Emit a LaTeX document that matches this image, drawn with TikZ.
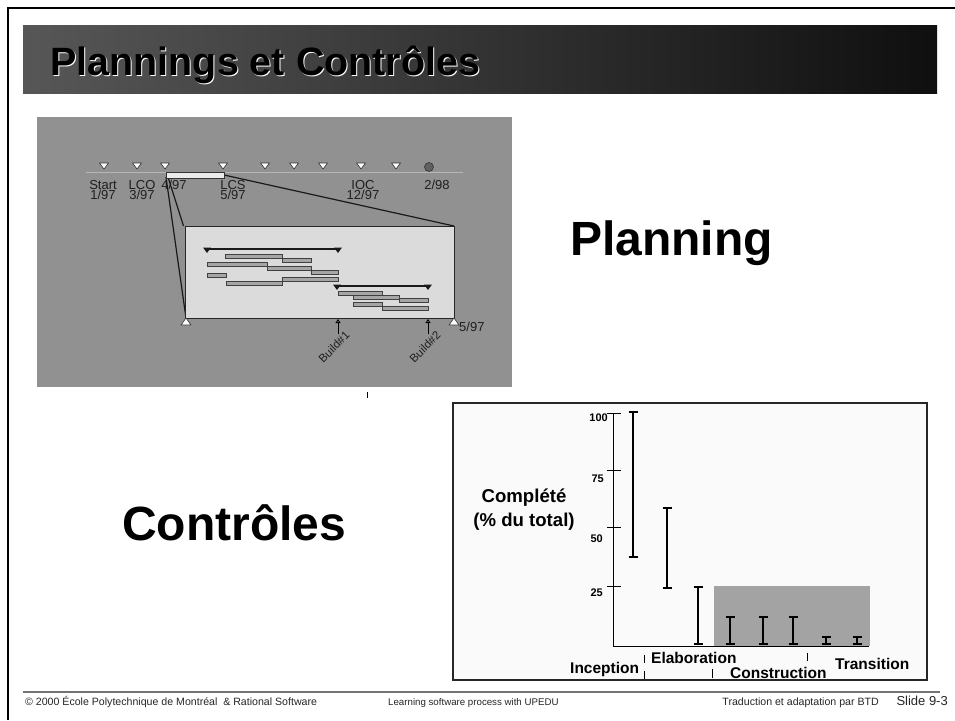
\documentclass[tikz,border=0pt]{standalone}
\usepackage{fontspec}
\setmainfont{Liberation Sans}
\usetikzlibrary{arrows.meta}

\tikzset{
  titletxt/.style={font=\fontsize{39.5}{40}\selectfont\bfseries, inner sep=0, anchor=base west},
  bigtxt/.style={font=\fontsize{48}{48}\selectfont\bfseries, inner sep=0, anchor=base west},
  ms/.style={font=\fontsize{13}{13}\selectfont, text=black!88, inner sep=0, anchor=base},
  buildtxt/.style={font=\fontsize{11.5}{12}\selectfont, text=black!88, inner sep=0, rotate=45},
  tri/.style={draw=black!80, fill=white, line width=0.6, line join=round},
  btri/.style={fill=black!90},
  gbar/.style={draw=black!75, fill=black!35, line width=0.6},
  span/.style={line width=2.2, black!90},
  zoomline/.style={line width=1.2, black!90},
  axis/.style={line width=1, black},
  ebar/.style={line width=2.8, black},
  ecap/.style={line width=2.2, black},
  ylab/.style={font=\fontsize{11}{11}\selectfont\bfseries, inner sep=0, anchor=east},
  phase/.style={font=\fontsize{15.5}{16}\selectfont\bfseries, inner sep=0, anchor=base west},
  ttl/.style={font=\fontsize{18.6}{19}\selectfont\bfseries, inner sep=0, anchor=base},
  foot/.style={font=\fontsize{10.6}{11}\selectfont, text=black!85, inner sep=0},
  sep/.style={line width=1, black}
}

\begin{document}
\begin{tikzpicture}[x=1pt,y=-1pt]
\useasboundingbox (0,0) rectangle (955,720);
\fill[white] (0,0) rectangle (955,720);

% slide frame (left and top edges)
\draw[line width=2.5] (8,720) -- (8,8) -- (955,8);

% title bar with embossed heading
\shade[left color=black!66, right color=black!94] (23,25) rectangle (937,93);
\node[titletxt, text=white] (titleshadow) at (51,76) {Plannings et Contrôles};
\node[titletxt, text=black] (title) at (50,75) {Plannings et Contrôles};

% ---------- schedule panel ----------
\fill[black!43] (37,117) rectangle (512,387);
\draw[black!28, line width=1] (86,172) -- (463,172);
\foreach \x in {104,137,165,223,265,294,323,361,396}
  \draw[tri] (\x-4.5,163) -- (\x+4.5,163) -- (\x,169) -- cycle;
\draw[fill=black!62, draw=black!80, line width=0.6] (429,167) circle (4.5);

\node[ms] (start) at (103,189) {Start};
\node[ms] (d1) at (103,199.5) {1/97};
\node[ms] (lco) at (142,189) {LCO};
\node[ms] (d3) at (142,199.5) {3/97};
\node[ms] (d4) at (174,189) {4/97};
\node[ms] (lcs) at (233,189) {LCS};
\node[ms] (d5) at (233,199.5) {5/97};
\node[ms] (ioc) at (363,189) {IOC};
\node[ms] (d12) at (363,199.5) {12/97};
\node[ms] (d98) at (437,189) {2/98};

% highlighted iteration on the timeline and its blow-up
\draw[zoomline] (224,175) -- (454,226);
\draw[zoomline] (168,177) -- (183.5,226);
\draw[zoomline] (166,177) -- (186,318);
\draw[fill=black!8, draw=black!80, line width=0.8] (166,172) rectangle (224,178);
\draw[fill=black!14, draw=black!85, line width=0.8] (185,226) rectangle (454,318);

% first build: span and tasks
\draw[span] (207,249) -- (338,249);
\fill[btri] (203,247.5) -- (211,247.5) -- (207,253) -- cycle;
\fill[btri] (334,247.5) -- (342,247.5) -- (338,253) -- cycle;
\foreach \a/\b/\y in {225/282/254, 282/311/258, 207/267/262, 267/311/266, 311/338/270,
                      207/226/273, 226/282/281, 282/338/277}
  \draw[gbar] (\a,\y) rectangle (\b,\y+4);

% second build: span and tasks
\draw[span] (337,286) -- (428,286);
\fill[btri] (333,284.5) -- (341,284.5) -- (337,290) -- cycle;
\fill[btri] (424,284.5) -- (432,284.5) -- (428,290) -- cycle;
\foreach \a/\b/\y in {338/382/291, 353/399/295, 399/428/298, 353/382/302, 382/428/306}
  \draw[gbar] (\a,\y) rectangle (\b,\y+4);

% iteration end points and builds
\draw[tri] (181,325) -- (191,325) -- (186,318) -- cycle;
\draw[tri] (449,325) -- (459,325) -- (454,318) -- cycle;
\node[ms, anchor=west] (d5b) at (459,327) {5/97};
\coordinate (b1a) at (338,334);
\coordinate (b1b) at (338,319);
\coordinate (b2a) at (428,334);
\coordinate (b2b) at (428,319);
\draw[line width=0.8, -{Triangle[open,width=5pt,length=4pt]}] (b1a) -- (b1b);
\draw[line width=0.8, -{Triangle[open,width=5pt,length=4pt]}] (b2a) -- (b2b);
\node[buildtxt] (build1) at (334,347) {Build\#1};
\node[buildtxt] (build2) at (425,347) {Build\#2};
\draw[line width=1] (367,392) -- (367,398);

% ---------- headings ----------
\node[bigtxt] (planning) at (570,255) {Planning};
\node[bigtxt] (controles) at (122,540) {Contrôles};

% ---------- progress chart ----------
\draw[fill=black!2, draw=black!85, line width=1.5] (453,403) rectangle (927,680);
\fill[black!36] (714,586) rectangle (870,646);
\draw[axis] (613,413) -- (613,646) -- (869,646);
\foreach \y in {413,470,527,586}
  \draw[axis] (607,\y) -- (621,\y);
\node[ylab] (l100) at (608,418) {100};
\node[ylab] (l75) at (604,479) {75};
\node[ylab] (l50) at (603,539) {50};
\node[ylab] (l25) at (603,593) {25};

\foreach \x/\a/\b in {633/412/557, 667/508/588, 698/587/644, 730/617/644,
                      763/617/644, 793/617/644, 826/637/644, 857/637/644}
{
  \draw[ebar] (\x,\a) -- (\x,\b);
  \draw[ecap] (\x-4.5,\a) -- (\x+4.5,\a) (\x-4.5,\b) -- (\x+4.5,\b);
}

\node[ttl] (compl) at (524,502) {Complété};
\node[ttl] (pct) at (524,526) {(\% du total)};

\node[phase] (inc) at (570,673) {Inception};
\node[phase] (ela) at (651,663) {Elaboration};
\node[phase] (con) at (730,678) {Construction};
\node[phase] (tra) at (835,669) {Transition};
\draw[sep] (644,655) -- (644,663);
\draw[sep] (644,671) -- (644,679);
\draw[sep] (712,669) -- (712,678);
\draw[sep] (807,653) -- (807,661);

% ---------- footer ----------
\draw[black!55, line width=1.5] (23,692) -- (940,692);
\node[foot, anchor=base west] (f1) at (25,705) {© 2000 École Polytechnique de Montréal \ \& Rational Software};
\node[foot, anchor=base west, font=\fontsize{9.7}{10}\selectfont] (f2) at (388,705) {Learning software process with UPEDU};
\node[foot, anchor=base east] (f3) at (879,705) {Traduction et adaptation par BTD};
\node[foot, anchor=base east, font=\fontsize{13}{13}\selectfont] (f4) at (948,705) {Slide 9-3};
\end{tikzpicture}
\end{document}
